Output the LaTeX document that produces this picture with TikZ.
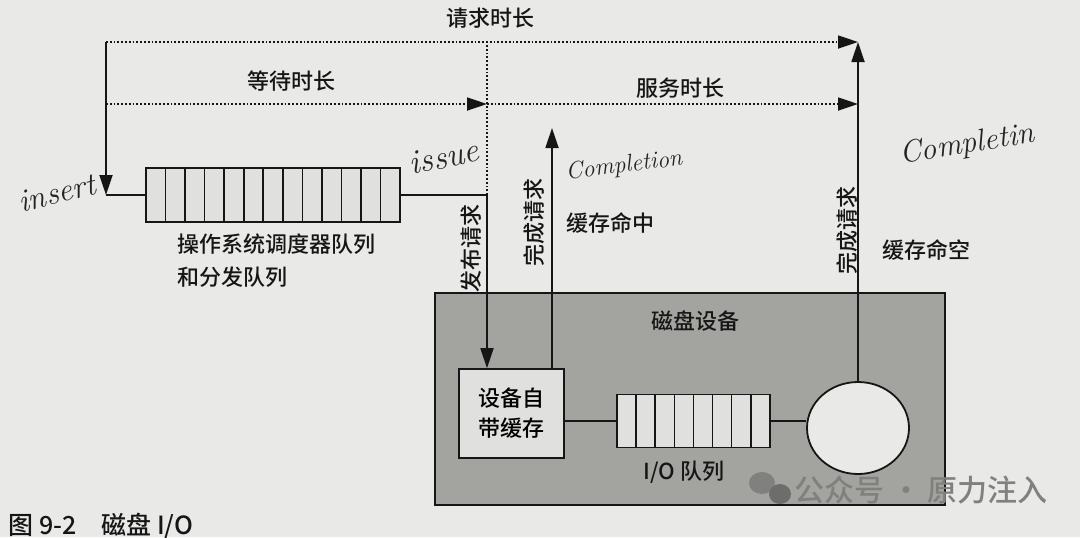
\documentclass[tikz,border=0pt]{standalone}
\usepackage{fontspec}
\newfontfamily\cjk{Noto Sans CJK SC Medium}
\usetikzlibrary{arrows.meta,positioning,shapes.geometric}

\definecolor{paper}{RGB}{233,234,231}
\definecolor{boxgray}{RGB}{163,163,160}
\definecolor{cellgray}{RGB}{224,225,222}
\definecolor{ink}{RGB}{22,22,22}
\definecolor{pencil}{RGB}{35,35,35}
\definecolor{wmgray}{RGB}{128,128,126}

\tikzset{
  lbl/.style={font=\cjk\fontsize{11}{16.5}\selectfont, text=ink, inner sep=0pt},
  vlbl/.style={lbl, rotate=90},
  hand/.style={font=\itshape\fontsize{13}{15}\selectfont, text=pencil, inner sep=0pt},
  flow/.style={draw=ink, line width=0.9pt},
  timing/.style={draw=ink, line width=0.9pt, densely dotted},
  tip/.style={-{Triangle[length=10pt,width=6.5pt]}},
  queue/.style={draw=ink, fill=cellgray, line width=0.8pt, inner sep=0pt},
}

\begin{document}
\begin{tikzpicture}[x=0.5pt, y=-0.5pt]
\useasboundingbox (0,0) rectangle (1080,537);
\fill[paper] (0,0) rectangle (1080,537);

% disk device
\node[draw=ink, fill=boxgray, line width=1pt, minimum width=255pt, minimum height=106pt, inner sep=0pt] (dev) at (690,399) {};
\node[lbl] (devname) at (695,321) {磁盘设备};
\node[queue, minimum width=52.5pt, minimum height=44.5pt, align=center, font=\cjk\fontsize{11}{15}\selectfont] (cache) at (511.5,413.5) {设备自\\带缓存};
\node[queue, minimum width=76.5pt, minimum height=26.5pt] (ioq) at (693.5,421) {};
\foreach \i in {1,...,7}
  \draw[ink, line width=0.8pt] (617+\i*19.1,394.5) -- ++(0,53);
\node[lbl] (ioqname) at (684,472) {I/O 队列};
\node[draw=ink, fill=paper, line width=0.9pt, ellipse, minimum width=51pt, minimum height=46pt, inner sep=0pt] (disk) at (858,428) {};
\draw[flow] (cache.east |- ioq.west) -- (ioq.west);
\draw[flow] (ioq.east) -- (ioq.east -| disk.west);

% OS scheduler queue
\node[queue, minimum width=127pt, minimum height=27pt] (osq) at (273,195) {};
\foreach \i in {1,...,12}
  \draw[ink, line width=0.8pt] (146+\i*19.54,168) -- ++(0,54);
\node[lbl, anchor=north west, align=left] (osqname) at (177,233) {操作系统调度器队列\\和分发队列};

% time spans
\coordinate (start) at (106,42);
\coordinate (insert) at (106,195);
\coordinate (issue) at (487,195);
\coordinate (done) at (disk.north |- start);
\coordinate (hit) at (552,128);
\draw[timing, tip] (start) -- (done);
\draw[timing, tip] (start |- 0,104) -- (issue |- 0,104);
\draw[timing, tip] (issue |- 0,104) -- (done |- 0,104);
\draw[timing] (issue) -- (issue |- start);
\node[lbl] (reqtime) at (490,18) {请求时长};
\node[lbl] (waittime) at (291,81) {等待时长};
\node[lbl] (servtime) at (680,88) {服务时长};

% request path
\draw[flow, tip] (start) -- (insert);
\draw[flow] (insert) -- (osq.west);
\draw[flow] (osq.east) -- (issue);
\draw[flow, tip] (issue) -- (issue |- cache.north);
\draw[flow, tip] (cache.north -| hit) -- (hit);
\draw[flow, tip] (disk.north) -- (done);
\node[vlbl] (issuelbl) at (471,248) {发布请求};
\node[vlbl] (hitlbl) at (534,222) {完成请求};
\node[lbl] (hitname) at (610,223) {缓存命中};
\node[vlbl] (misslbl) at (847,230) {完成请求};
\node[lbl] (missname) at (926,250) {缓存命空};

% pencil notes
\node[hand, rotate=14, font=\itshape\fontsize{16}{18}\selectfont] (note1) at (57,193) {insert};
\node[hand, rotate=12, font=\itshape\fontsize{17}{19}\selectfont] (note2) at (444,157) {issue};
\node[hand, rotate=7, font=\itshape\fontsize{12}{14}\selectfont] (note3) at (624,166) {Completion};
\node[hand, rotate=9, font=\itshape\fontsize{15.5}{17}\selectfont] (note4) at (967,145) {Completin};

% caption and watermark
\node[lbl, anchor=west, font=\cjk\fontsize{12.5}{14}\selectfont] (caption) at (8,526) {图 9-2\quad 磁盘 I/O};
\fill[wmgray] (762,483) ellipse (13 and 11);
\fill[wmgray!85!black] (780,494) ellipse (11 and 10);
\node[lbl, text=wmgray, font=\cjk\fontsize{15}{17}\selectfont] (wm) at (921,490) {公众号 · 原力注入};
\end{tikzpicture}
\end{document}
